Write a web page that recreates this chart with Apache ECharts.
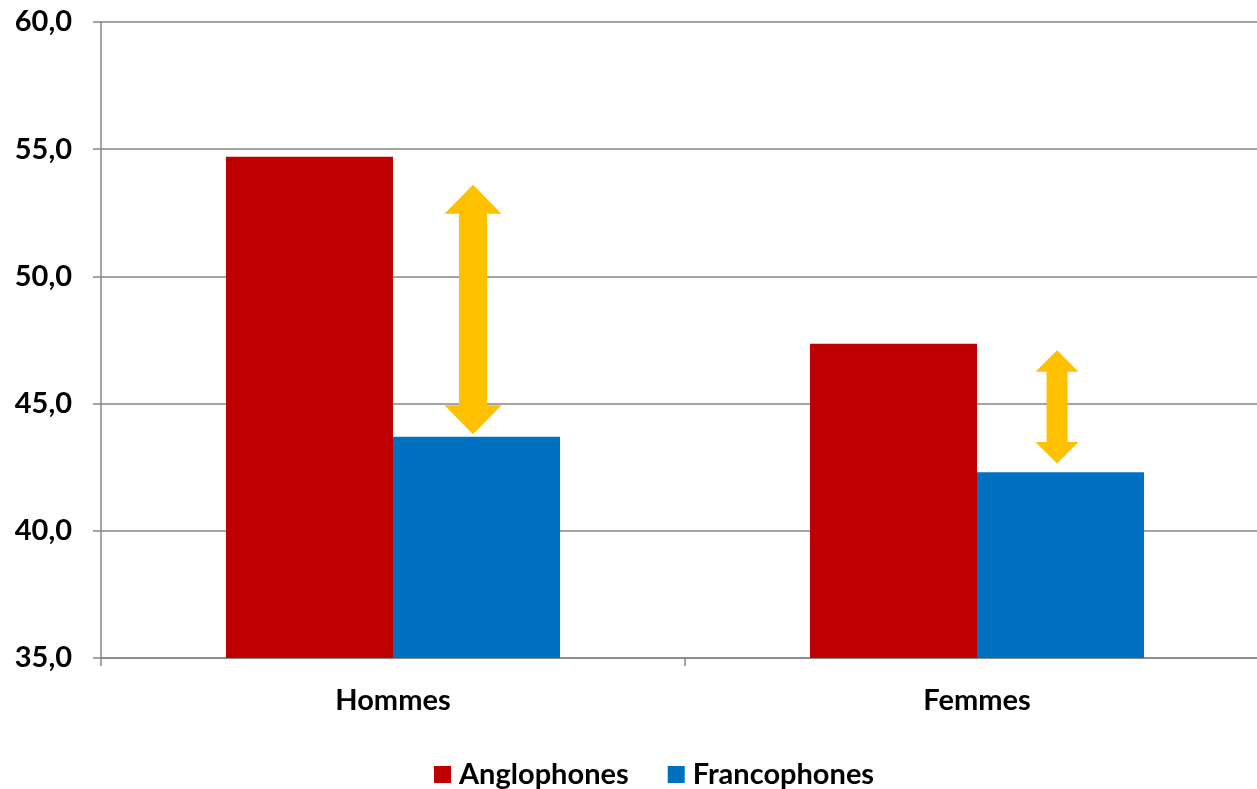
<!DOCTYPE html>
<html>
<head>
<meta charset="utf-8">
<script src="https://cdn.jsdelivr.net/npm/echarts@6/dist/echarts.min.js"></script>
<style>
  html, body { margin: 0; padding: 0; background: #fff; }
  #chart { width: 1257px; height: 789px; }
</style>
</head>
<body>
<div id="chart"></div>
<script>
// données
var categories = ['Hommes', 'Femmes'];
var anglophones = [54.7, 47.35];
var francophones = [43.7, 42.3];
// flèches d'écart : [début, fin]
var arrowLow = [43.8, 42.65];
var arrowHigh = [53.6, 47.1];
var yTicks = ['35,0', '40,0', '45,0', '50,0', '55,0', '60,0'];

// taille des flèches (px)
var arrowHeadW = [57, 43];
var arrowShaftW = [28, 21];
var arrowHeadH = [29, 21.5];

var FONT = 'Lato';
var chart = echarts.init(document.getElementById('chart'));

var arrowData = categories.map(function (c, i) {
  return [i, arrowLow[i], arrowHigh[i]];
});

function renderArrow(params, api) {
  var i = params.dataIndex;
  var band = api.size([1, 0])[0];
  var p1 = api.coord([api.value(0), api.value(2)]);
  var p0 = api.coord([api.value(0), api.value(1)]);
  var cx = p1[0] + band * 0.137;
  var top = p1[1], bottom = p0[1];
  var hw = arrowHeadW[i] / 2, sw = arrowShaftW[i] / 2, hh = arrowHeadH[i];
  return {
    type: 'polygon',
    shape: {
      points: [
        [cx, top], [cx + hw, top + hh], [cx + sw, top + hh],
        [cx + sw, bottom - hh], [cx + hw, bottom - hh], [cx, bottom],
        [cx - hw, bottom - hh], [cx - sw, bottom - hh],
        [cx - sw, top + hh], [cx - hw, top + hh]
      ]
    },
    style: { fill: '#FFC000' }
  };
}

var option = {
  animation: false,
  textStyle: { fontFamily: FONT },
  // la zone de tracé déborde un peu à droite, comme dans l'original
  grid: { left: 101, right: -12, top: 22, bottom: 131, outerBoundsMode: 'none' },
  legend: {
    data: ['Anglophones', 'Francophones'],
    top: 755,
    left: 429,
    icon: 'rect',
    itemWidth: 17,
    itemHeight: 17,
    itemGap: 39,
    textStyle: { fontFamily: FONT, fontWeight: 'bold', fontSize: 29, color: '#000', padding: [0, 0, 0, 3] }
  },
  xAxis: {
    type: 'category',
    data: categories,
    axisLine: { lineStyle: { color: '#868686', width: 1.5 } },
    axisTick: { show: true, length: 8, lineStyle: { color: '#868686', width: 1.5 } },
    axisLabel: { fontFamily: FONT, fontWeight: 'bold', fontSize: 29, color: '#000', margin: 28 }
  },
  yAxis: {
    type: 'value',
    min: 35,
    max: 60,
    interval: 5,
    axisLine: { show: true, lineStyle: { color: '#868686', width: 1.5 } },
    axisTick: { show: true, length: 8, lineStyle: { color: '#868686', width: 1.5 } },
    splitLine: { lineStyle: { color: '#868686', width: 1.5 } },
    axisLabel: {
      fontFamily: FONT, fontWeight: 'bold', fontSize: 29, color: '#000', margin: 29,
      formatter: function (v) { return yTicks[(v - 35) / 5]; }
    }
  },
  series: [
    {
      name: 'Anglophones',
      type: 'bar',
      data: anglophones,
      barWidth: '28.6%',
      barGap: '0%',
      itemStyle: { color: '#C00000' }
    },
    {
      name: 'Francophones',
      type: 'bar',
      data: francophones,
      barWidth: '28.6%',
      itemStyle: { color: '#0070C0' }
    },
    {
      type: 'custom',
      renderItem: renderArrow,
      data: arrowData,
      z: 10,
      silent: true
    }
  ]
};
chart.setOption(option);
</script>
</body>
</html>
